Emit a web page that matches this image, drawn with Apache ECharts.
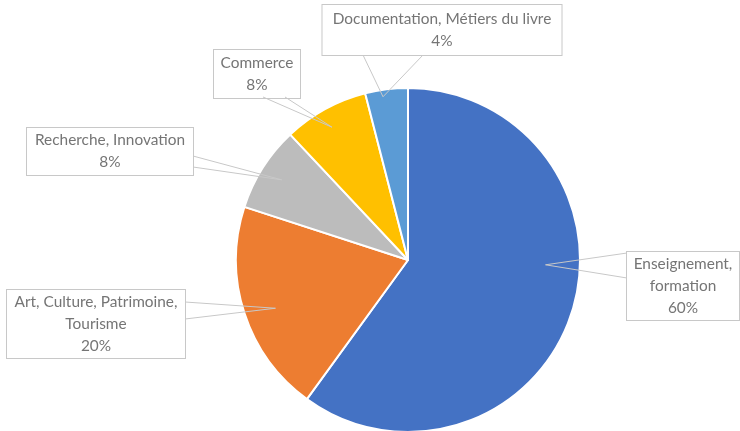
<!DOCTYPE html>
<html>
<head>
<meta charset="utf-8">
<script src="https://cdn.jsdelivr.net/npm/echarts@6/dist/echarts.min.js"></script>
<style>html,body{margin:0;padding:0;background:#fff;}#c{width:740px;height:431px;}</style>
</head>
<body>
<div id="c"></div>
<script>
// ---- data ----
const categories = ['Enseignement, formation', 'Art, Culture, Patrimoine, Tourisme', 'Recherche, Innovation', 'Commerce', 'Documentation, Métiers du livre'];
const labelNames = ['Enseignement,\nformation', 'Art, Culture, Patrimoine,\nTourisme', 'Recherche, Innovation', 'Commerce', 'Documentation, Métiers du livre'];
const values = [60, 20, 8, 8, 4];
const colors = ['#4472C4', '#ED7D31', '#BCBCBC', '#FFC000', '#5B9BD5'];

// ---- layout (label callouts) ----
const PIE_C = [408, 260];
const PIE_R = 172;
const LINE_H = 22;
const callouts = [
  { cx: 683, cy: 286, w: 112, h: 68, base: [[627, 253], [627, 278]], tipR: 0.80, tipDA: -16 },
  { cx: 96,  cy: 324, w: 178, h: 68, base: [[185, 302], [185, 319]], tipR: 0.82, tipDA: -2 },
  { cx: 110, cy: 151.5, w: 166, h: 47, base: [[193, 156], [193, 167]], tipR: 0.87, tipDA: 0 },
  { cx: 257, cy: 74,  w: 86,  h: 48, base: [[263, 97], [285, 97]], tipR: 0.89, tipDA: -1 },
  { cx: 442, cy: 30,  w: 239, h: 50, base: [[363, 55], [423, 55]], tipR: 0.96, tipDA: -1.5 }
];

const total = values.reduce((a, b) => a + b, 0);
let acc = 0;
const wedges = values.map((v, i) => {
  const mid = (acc + v / 2) / total * 360;
  acc += v;
  const L = callouts[i];
  const a = (mid + L.tipDA) * Math.PI / 180;
  const tip = [PIE_C[0] + PIE_R * L.tipR * Math.sin(a), PIE_C[1] - PIE_R * L.tipR * Math.cos(a)];
  return {
    type: 'polyline',
    z: 100,
    silent: true,
    shape: { points: [L.base[0], tip, L.base[1]] },
    style: { stroke: '#C8C8C8', fill: null, lineWidth: 1 }
  };
});

const chart = echarts.init(document.getElementById('c'), null, { renderer: 'canvas' });
chart.setOption({
  animation: false,
  graphic: wedges,
  series: [{
    type: 'pie',
    center: PIE_C,
    radius: PIE_R,
    startAngle: 90,
    clockwise: true,
    percentPrecision: 0,
    itemStyle: { borderColor: '#fff', borderWidth: 2 },
    labelLine: { show: false },
    label: {
      show: true,
      position: 'outside',
      fontFamily: 'Lato',
      fontSize: 15.4,
      color: '#757575',
      lineHeight: LINE_H,
      align: 'center',
      backgroundColor: '#fff',
      borderColor: '#C8C8C8',
      borderWidth: 1
    },
    labelLayout: function (params) {
      const L = callouts[params.dataIndex];
      return { x: L.cx, y: L.cy, align: 'center', verticalAlign: 'middle', hideOverlap: false, moveOverlap: false };
    },
    data: categories.map((name, i) => {
      const L = callouts[i];
      const lines = labelNames[i].split('\n').length + 1;
      const padV = Math.max(0, (L.h - lines * LINE_H) / 2);
      return {
        name: name,
        value: values[i],
        itemStyle: { color: colors[i] },
        label: {
          formatter: labelNames[i] + '\n{d}%',
          width: L.w,
          padding: [padV, 0, padV, 0]
        }
      };
    })
  }]
});
</script>
</body>
</html>
